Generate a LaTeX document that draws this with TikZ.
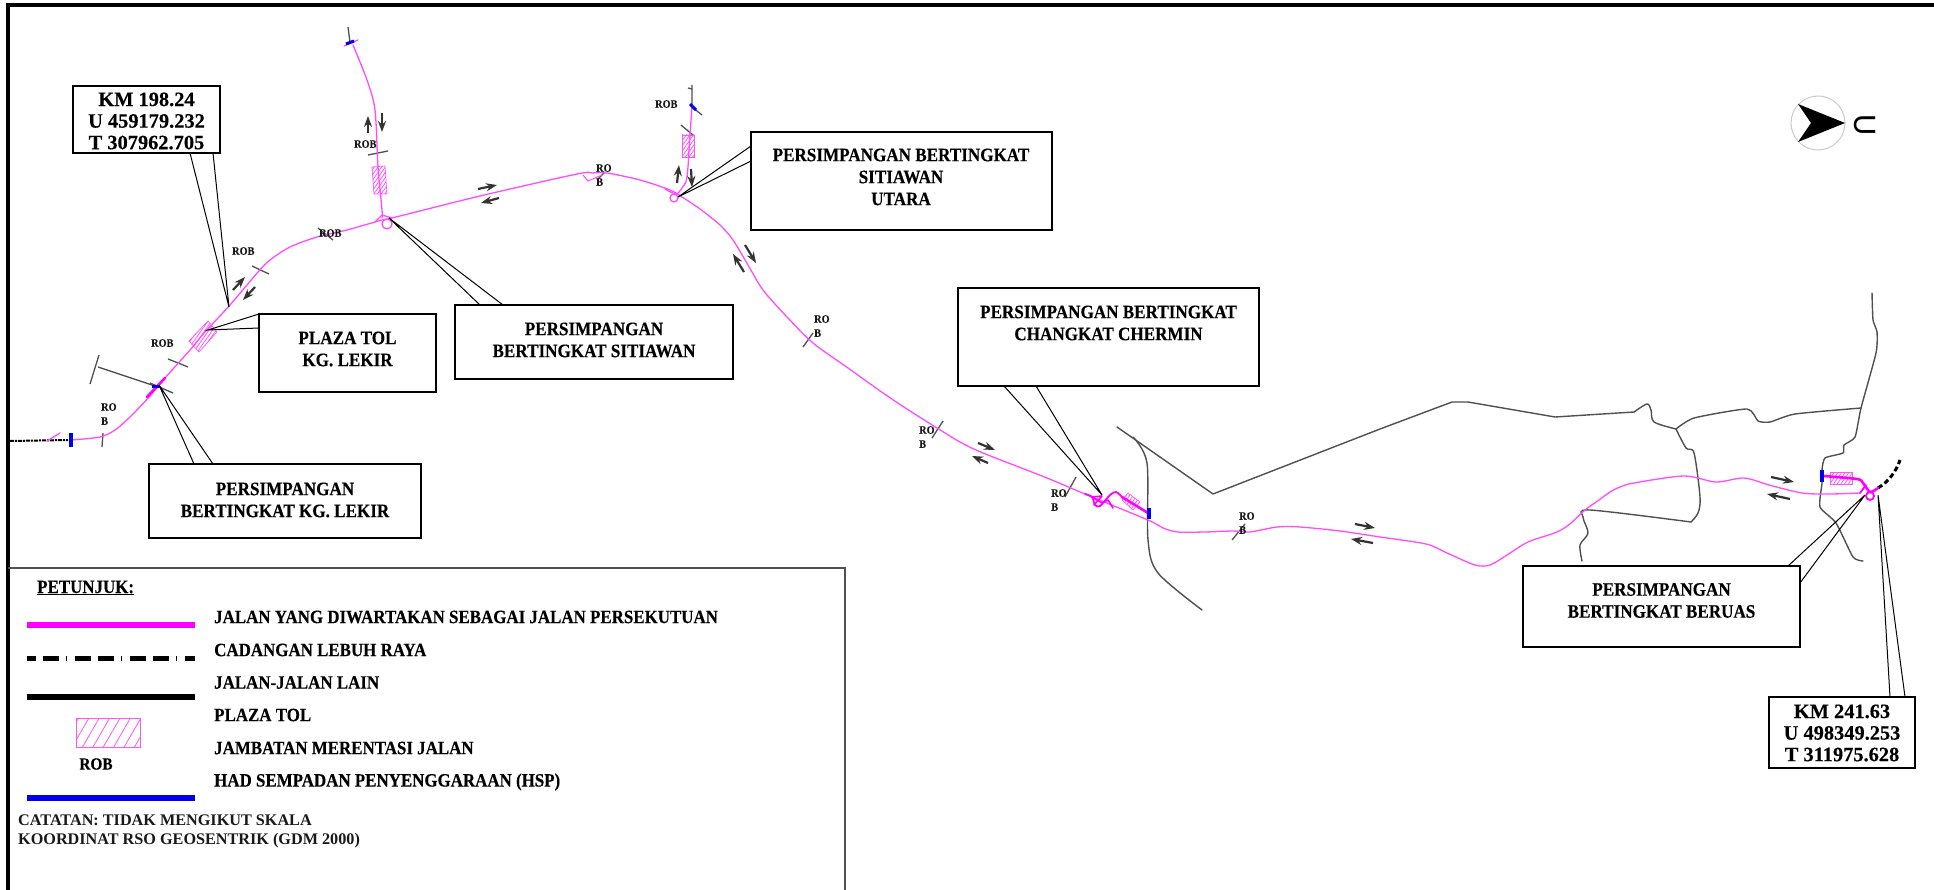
\documentclass[tikz,border=0pt]{standalone}
\usepackage{fontspec}
\setmainfont{Liberation Serif}
\newfontfamily\capf{Liberation Serif}[FakeStretch=0.9,FakeBold=0.25]
\newfontfamily\kmf{Liberation Serif}[FakeBold=0.25]
\newfontfamily\uf{Carlito}
\usetikzlibrary{arrows.meta,patterns.meta}
\definecolor{mag}{HTML}{FF4CFF}
\definecolor{magl}{HTML}{FF00FF}
\definecolor{hatchc}{HTML}{FF55FF}
\definecolor{road}{HTML}{505050}
\definecolor{hsp}{HTML}{0000EE}
\tikzset{
  x=1pt,y=-1pt,
  boxn/.style={draw=black,line width=2.5pt,fill=white,inner sep=0pt,outer sep=0pt},
  boxt/.style={font=\capf\bfseries\fontsize{19}{22}\selectfont,align=center,inner sep=0pt,text=black},
  kmt/.style={font=\kmf\bfseries\fontsize{20.4}{21.6}\selectfont,align=center,inner sep=0pt,text=black},
  robt/.style={font=\capf\bfseries\fontsize{11.4}{14}\selectfont,align=left,inner sep=0pt,anchor=north west,text=black!90},
  legt/.style={font=\capf\bfseries\fontsize{18.8}{20}\selectfont,anchor=west,inner sep=0pt,text=black},
  notet/.style={font=\bfseries\fontsize{16.2}{20}\selectfont,anchor=west,inner sep=0pt,text=black!90},
  mroad/.style={draw=mag,line width=1.3pt,line cap=round,line join=round},
  mthick/.style={draw=magl,line width=2.6pt,line cap=round,line join=round},
  oroad/.style={draw=road,line width=1.4pt,line cap=round,line join=round},
  tick/.style={draw=road,line width=1.3pt},
  leader/.style={draw=black,line width=1pt},
  hspbar/.style={draw=hsp,line width=4pt},
  hatch/.style={draw=hatchc,line width=.7pt,pattern={Lines[angle=55,distance=3pt,line width=.8pt]},pattern color=hatchc},
  dirarw/.style={draw=black!80,line width=2.2pt,-{Stealth[length=11pt,width=8pt]}},
  smoothp/.style={smooth,tension=0.5}
}
\begin{document}
\begin{tikzpicture}
\useasboundingbox (0,0) rectangle (1934,890);
\fill[white] (0,0) rectangle (1934,890);
% frame
\draw[black,line width=4pt] (8,890) -- (8,5) -- (1934,5);
% legend
\draw[road,line width=1.5pt] (8,568) -- (845,568) -- (845,890);

% other roads
\draw[oroad] plot coordinates {(1117,427) (1213,494) (1380,429) (1452,402) (1468,402) (1555,417) (1634,412)};
\draw[oroad] plot[smoothp] coordinates {(1634,412) (1647,404) (1651,410) (1654,422) (1676,429)};
\draw[oroad] plot[smoothp] coordinates {(1676,429) (1686,448) (1694,453) (1700,497) (1698,513) (1691,522)};
\draw[oroad] plot[smoothp] coordinates {(1691,522) (1590,510) (1583,517) (1588,533) (1580,545) (1582,561)};
\draw[oroad] plot[smooth,tension=.35] coordinates {(1676,429) (1694,418) (1747,409) (1758,421) (1770,422) (1795,414) (1861,408)};
\draw[oroad] plot[smooth,tension=.35] coordinates {(1872,293) (1873,320) (1877,332) (1876,353) (1861,408) (1855,437) (1844,445) (1843,453) (1825,458) (1822,470) (1822,483) (1820,507) (1836,523) (1853,557) (1863,561)};
\draw[oroad] plot[smoothp] coordinates {(1133,437) (1147,463) (1148,540) (1158,573) (1202,610)};

% ticks
\draw[tick] (102,447) -- (103,433);
\draw[tick] (99,355) -- (90,384);
\draw[tick] (98,367) -- (152,385);
\draw[tick] (150,383) -- (173,393);
\draw[tick] (168,359) -- (188,367);
\draw[tick] (252,266) -- (269,274);
\draw[tick] (318,228) -- (333,240);
\draw[tick] (368,155) -- (388,151);
\draw[tick] (348,27) -- (350,42);
\draw[tick] (597,180) -- (605,172);
\draw[tick] (692,85) -- (692,107) -- (702,115);
\draw[tick] (688,88) -- (692,89);
\draw[tick] (681,125) -- (694,136);
\draw[tick] (813,333) -- (803,347);
\draw[tick] (943,421) -- (932,438);
\draw[tick] (1076,477) -- (1065,497);
\draw[tick] (1245,524) -- (1232,540);

% hatched plazas
\draw[hatch] (189,341) -- (208,321) -- (217,332) -- (199,352) -- cycle;
\draw[hatch] (372,167) -- (385,166) -- (387,194) -- (374,194) -- cycle;
\draw[hatch] (682,135) -- (694,135) -- (694,157) -- (682,157) -- cycle;
\draw[hatch] (1122,500) -- (1128,493) -- (1140,502) -- (1133,510) -- cycle;
\draw[hatch] (1830,472) rectangle (1852,484);

% proposed highway
\draw[black,line width=2pt,dash pattern=on 4pt off 1pt on 2pt off 1pt] (10,441) -- (68,440);
\draw[black,line width=3pt,dash pattern=on 5pt off 3pt] (1878,488) .. controls (1888,482) and (1896,472) .. (1900,460);

% main road
\draw[mroad] plot[smoothp] coordinates {(71,440) (100,437) (115,430) (130,417) (150,396) (165,378) (190,350) (205,332) (230,305) (258,272) (270,260) (290,247) (317,237) (347,230) (382,220) (392,218) (480,196) (577,174) (592,173) (607,173) (640,180) (670,190) (682,197) (700,209) (720,225) (733,240) (748,265) (763,290) (787,317) (813,343) (848,368) (883,393) (910,411) (937,428) (960,442) (983,453) (1047,478) (1092,497) (1148,520) (1163,528) (1178,532) (1205,532) (1233,531) (1250,532) (1277,527) (1300,527) (1340,531) (1380,537) (1426,544) (1447,553) (1475,565) (1490,565) (1507,555) (1528,542) (1557,532) (1571,523) (1585,510) (1599,500) (1610,492) (1620,487) (1634,483) (1684,476) (1716,482) (1744,478) (1769,485) (1802,493) (1830,494) (1860,493)};
\draw[mroad] (47,441) -- (60,433);
\draw[mthick] (147,397) -- (165,378);
% north branch of Sitiawan
\draw[mroad] plot[smoothp] coordinates {(382,218) (382,210) (378,167) (375,110) (367,80) (353,45)};
\draw[mroad] (344,46) -- (358,40);
\draw[mroad] (387,224) circle[radius=5];
\draw[mroad] (375,222) -- (382,215) -- (392,218);
% small slip near ROB
\draw[mroad,line width=1pt] (583,175) -- (588,181) -- (602,175);
% Sitiawan Utara branch
\draw[mroad] plot[smoothp] coordinates {(665,189) (676,194) (682,188) (687,177) (690,135) (692,106)};
\draw[mroad] (674,198) circle[radius=4];
% Changkat Chermin junction
\draw[mthick,line width=1.8pt] plot[smoothp] coordinates {(1085,494) (1092,497) (1095,505) (1100,506) (1110,495) (1116,492) (1122,497)};
\draw[mthick,line width=1.6pt] (1092,497) -- (1102,496) -- (1094,505);
\draw[mthick,line width=1.6pt] (1092,497) -- (1102,503) -- (1108,500) -- (1113,508);
\draw[mthick] (1122,497) -- (1148,513);
% Beruas junction
\draw[mthick] plot[smoothp] coordinates {(1823,476) (1857,479) (1863,483) (1870,492) (1878,488)};
\draw[mthick,line width=1.8pt] (1860,493) -- (1866,485);
\draw[mthick,line width=1.8pt] (1870,496) circle[radius=4];

% HSP limits
\draw[hspbar] (71,433) -- (71,447);
\draw[hspbar,line width=3pt] (152,386) -- (160,386);
\draw[hspbar,line width=3pt] (346,44) -- (354,41);
\draw[hspbar,line width=3pt] (690,104) -- (696,110);
\draw[hspbar] (1149,508) -- (1149,519);
\draw[hspbar] (1822,470) -- (1822,482);

% direction arrows
\draw[dirarw] (368,133) -- (368,116);
\draw[dirarw] (382,113) -- (382,132);
\draw[dirarw] (233,290) -- (245,277);
\draw[dirarw] (255,287) -- (243,300);
\draw[dirarw] (478,189) -- (497,185);
\draw[dirarw] (499,198) -- (481,203);
\draw[dirarw] (677,183) -- (679,165);
\draw[dirarw] (691,169) -- (692,187);
\draw[dirarw] (744,272) -- (733,254);
\draw[dirarw] (745,245) -- (756,263);
\draw[dirarw] (978,443) -- (995,450);
\draw[dirarw] (988,463) -- (972,456);
\draw[dirarw] (1355,524) -- (1375,528);
\draw[dirarw] (1373,543) -- (1351,539);
\draw[dirarw] (1771,477) -- (1794,482);
\draw[dirarw] (1790,499) -- (1767,494);

% leader anchor points
\coordinate (pKM) at (229,307);
\coordinate (pPlaza) at (208,330);
\coordinate (pLekir) at (159,385);
\coordinate (pSit) at (389,218);
\coordinate (pUtara) at (678,197);
\coordinate (pChangkat) at (1102,495);
\coordinate (pBeruas) at (1865,495);
\coordinate (pKMb) at (1878,495);
% boxes
\node[boxn,minimum width=147pt,minimum height=67pt] (kmA) at (146.5,119.5) {};
\node[boxn,minimum width=177pt,minimum height=78pt] (plaza) at (347.5,353) {};
\node[boxn,minimum width=278pt,minimum height=74pt] (sit) at (594,342) {};
\node[boxn,minimum width=301pt,minimum height=98pt] (utara) at (901.5,181) {};
\node[boxn,minimum width=301pt,minimum height=98pt] (chang) at (1108.5,337) {};
\node[boxn,minimum width=272pt,minimum height=74pt] (lekir) at (285,501) {};
\node[boxn,minimum width=277pt,minimum height=81pt] (beruas) at (1661.5,606.5) {};
\node[boxn,minimum width=146pt,minimum height=71pt] (kmB) at (1842,732.5) {};
% leaders
\draw[leader] ([xshift=43.5pt]kmA.south) -- (pKM) -- ([xshift=66.5pt]kmA.south);
\draw[leader] (plaza.north west) -- (pPlaza) -- ([yshift=-14pt]plaza.north west);
\draw[leader] ([xshift=25pt]sit.north west) -- (pSit) -- ([xshift=48pt]sit.north west);
\draw[leader] ([yshift=-14pt]utara.north west) -- (pUtara) -- ([yshift=-29pt]utara.north west);
\draw[leader] ([xshift=46pt]chang.south west) -- (pChangkat) -- ([xshift=78pt]chang.south west);
\draw[leader] ([xshift=45pt]lekir.north west) -- (pLekir) -- ([xshift=64pt]lekir.north west);
\draw[leader] ([xshift=-12pt]beruas.north east) -- (pBeruas) -- ([yshift=-17pt]beruas.north east);
\draw[leader] ([xshift=121pt]kmB.north west) -- (pKMb) -- ([xshift=136pt]kmB.north west);

% box texts
\node[kmt] (tA) at (146.5,121) {KM 198.24\\U 459179.232\\T 307962.705};
\node[boxt] (tP) at (347.5,349) {PLAZA TOL\\KG. LEKIR};
\node[boxt] (tS) at (594,340) {PERSIMPANGAN\\BERTINGKAT SITIAWAN};
\node[boxt] (tU) at (901,177) {PERSIMPANGAN BERTINGKAT\\SITIAWAN\\UTARA};
\node[boxt] (tC) at (1108.5,323) {PERSIMPANGAN BERTINGKAT\\CHANGKAT CHERMIN};
\node[boxt] (tL) at (285,500) {PERSIMPANGAN\\BERTINGKAT KG. LEKIR};
\node[boxt] (tB) at (1661.5,600.5) {PERSIMPANGAN\\BERTINGKAT BERUAS};
\node[kmt] (tK) at (1842,733) {KM 241.63\\U 498349.253\\T 311975.628};

% ROB labels
\node[robt] (r1) at (101,403) {RO\\B};
\node[robt] (r2) at (151,339) {ROB};
\node[robt] (r3) at (232,247) {ROB};
\node[robt] (r4) at (319,229) {ROB};
\node[robt] (r5) at (354,140) {ROB};
\node[robt] (r6) at (655,100) {ROB};
\node[robt] (r7) at (596,164) {RO\\B};
\node[robt] (r8) at (814,315) {RO\\B};
\node[robt] (r9) at (919,426) {RO\\B};
\node[robt] (r10) at (1051,489) {RO\\B};
\node[robt] (r11) at (1239,512) {RO\\B};

% north arrow
\draw[black!20,line width=1pt] (1818,123) circle[radius=27];
\fill[black] (1845,123) -- (1798,104) -- (1811,123) -- (1798,142) -- cycle;
\node[font=\uf\fontsize{33}{33}\selectfont,rotate=-90,inner sep=0pt] (northU) at (1865,125) {U};

% legend content
\node[font=\capf\bfseries\fontsize{18.8}{20}\selectfont,anchor=west,inner sep=0pt] (pet) at (37,588) {\underline{PETUNJUK:}};
\draw[magl,line width=6.5pt] (27,625) -- (195,625);
\draw[black,line width=5pt,dash pattern=on 16pt off 7pt on 16pt off 7pt on 1pt off 8pt,dash phase=7pt] (27,658) -- (195,658);
\draw[black,line width=6pt] (27,697) -- (195,697);
\draw[hatchc,line width=1pt,pattern={Lines[angle=60,distance=9pt,line width=.8pt]},pattern color=hatchc] (76,718) rectangle (140,747);
\node[font=\capf\bfseries\fontsize{17}{20}\selectfont,inner sep=0pt] (rleg) at (96,764) {ROB};
\draw[hsp,line width=6pt] (27,798) -- (195,798);
\node[legt] (l1) at (214,617) {JALAN YANG DIWARTAKAN SEBAGAI JALAN PERSEKUTUAN};
\node[legt] (l2) at (214,650) {CADANGAN LEBUH RAYA};
\node[legt] (l3) at (214,682.5) {JALAN-JALAN LAIN};
\node[legt] (l4) at (214,715) {PLAZA TOL};
\node[legt] (l5) at (214,748) {JAMBATAN MERENTASI JALAN};
\node[legt] (l6) at (214,782) {HAD SEMPADAN PENYENGGARAAN (HSP)};
\node[notet] (n1) at (18,820) {CATATAN: TIDAK MENGIKUT SKALA};
\node[notet] (n2) at (18,841) {KOORDINAT RSO GEOSENTRIK (GDM 2000)};
\end{tikzpicture}
\end{document}
